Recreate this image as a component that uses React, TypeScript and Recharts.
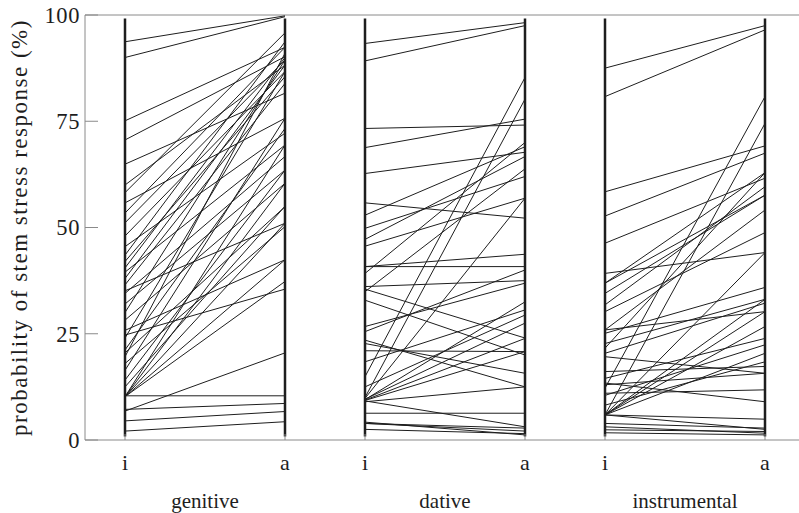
import { Line, LineChart, ReferenceLine, XAxis, YAxis } from "recharts";

const panelNames = ["genitive", "dative", "instrumental"];
const levelLabels = ["i", "a"];
const panelStart = [0, 3, 6];
const panelSpan = 2;
const yTicks = [0, 25, 50, 75, 100];

const genitiveI = [93.7, 90.0, 75.1, 70.6, 64.9, 60.0, 58.2, 55.8, 53.4, 51.1, 48.0, 45.5, 43.5, 42.0, 40.5, 39.5, 38.0, 36.5, 35.1, 34.5, 32.0, 30.0, 28.2, 25.8, 24.7, 24.0, 21.2, 20.5, 19.6, 18.0, 16.4, 14.1, 12.5, 10.2, 10.2, 10.2, 10.2, 10.2, 10.4, 7.2, 6.8, 4.5, 2.1];
const genitiveA = [99.8, 99.6, 92.4, 90.2, 81.6, 88.2, 95.8, 75.7, 92.4, 89.4, 86.7, 72.2, 93.7, 85.5, 90.0, 69.4, 88.2, 83.9, 51.0, 66.7, 63.5, 89.4, 60.4, 42.4, 35.5, 86.7, 73.3, 54.9, 91.0, 50.2, 75.7, 63.5, 55.0, 37.3, 60.4, 69.4, 51.0, 42.4, 10.4, 8.6, 20.5, 6.7, 4.3];

const dativeI = [93.3, 89.2, 73.3, 68.8, 62.7, 55.8, 52.9, 49.8, 47.2, 45.6, 40.8, 40.8, 39.2, 36.1, 34.9, 32.9, 26.7, 25.5, 23.5, 22.7, 21.0, 18.4, 14.9, 12.5, 10.0, 9.8, 9.6, 9.5, 9.4, 9.3, 9.2, 9.0, 6.3, 3.9, 3.9, 2.5, 4.2, 35.5];
const dativeA = [98.2, 97.5, 74.1, 75.5, 67.7, 52.2, 69.0, 62.0, 66.7, 56.9, 43.7, 40.8, 70.0, 37.5, 63.8, 20.0, 36.9, 40.0, 12.5, 15.7, 20.8, 30.6, 85.3, 29.4, 80.2, 56.9, 27.5, 32.5, 23.9, 20.8, 3.1, 12.5, 6.3, 2.1, 2.8, 1.5, 1.2, 24.0];

const instrumentalI = [87.5, 80.8, 58.4, 52.7, 46.3, 39.2, 36.9, 34.5, 31.8, 30.2, 25.9, 25.1, 22.7, 21.6, 20.4, 19.6, 16.1, 14.5, 13.4, 13.0, 12.2, 11.0, 10.5, 8.2, 5.9, 5.9, 5.9, 5.9, 5.9, 5.9, 5.9, 5.9, 3.9, 3.1, 2.4, 1.7, 36.9, 25.9];
const instrumentalA = [97.5, 96.5, 69.2, 67.5, 61.6, 44.1, 62.9, 57.6, 59.6, 48.8, 54.1, 35.9, 33.1, 62.9, 32.2, 15.7, 17.3, 23.9, 9.0, 15.7, 80.8, 11.8, 22.4, 18.4, 74.5, 30.2, 26.7, 20.4, 44.1, 33.1, 4.9, 2.5, 2.8, 1.6, 2.0, 1.2, 57.6, 30.2];

const panels = [
  { start: genitiveI, end: genitiveA },
  { start: dativeI, end: dativeA },
  { start: instrumentalI, end: instrumentalA },
];

const FONT = "Liberation Serif";
const INK = "#1e1e1e";
const AXIS = "#8a8a8a";

const levelTicks = panelStart.flatMap((s) => [s, s + panelSpan]);
const panelCenters = panelStart.map((s) => s + panelSpan / 2);

interface TickProps {
  x?: number;
  y?: number;
  payload?: { value: number };
}

function YTick({ x, y, payload }: TickProps) {
  return (
    <text x={x} y={y} dy="0.35em" textAnchor="end" fill={INK} fontFamily={FONT} fontSize={22.5} letterSpacing={0.6}>
      {payload?.value}
    </text>
  );
}

function LevelTick({ x, y, payload }: TickProps) {
  const label = panelStart.includes(payload?.value ?? -1) ? levelLabels[0] : levelLabels[1];
  return (
    <text x={x} y={y} dy="0.71em" textAnchor="middle" fill={INK} fontFamily={FONT} fontSize={22}>
      {label}
    </text>
  );
}

function PanelTick({ x, y, payload }: TickProps) {
  return (
    <text x={x} y={y} dy="0.71em" textAnchor="middle" fill={INK} fontFamily={FONT} fontSize={21}>
      {panelNames[panelCenters.indexOf(payload?.value ?? -1)]}
    </text>
  );
}

export default function App() {
  return (
    <div style={{ position: "absolute", left: 0, top: 0, background: "#fff", fontFamily: FONT }}>
      <LineChart width={799} height={513} margin={{ top: 15, right: 0, left: 0, bottom: 0 }}>
        <XAxis
          type="number"
          dataKey="x"
          domain={[-0.5, 8.425]}
          allowDataOverflow
          ticks={levelTicks}
          stroke={AXIS}
          tickSize={-6}
          tickMargin={20}
          height={40}
          tick={<LevelTick />}
        />
        <XAxis
          xAxisId="panel"
          type="number"
          dataKey="x"
          domain={[-0.5, 8.425]}
          allowDataOverflow
          ticks={panelCenters}
          axisLine={false}
          tickLine={false}
          tickSize={0}
          tickMargin={13}
          height={33}
          tick={<PanelTick />}
        />
        <YAxis
          type="number"
          domain={[0, 100]}
          ticks={yTicks}
          width={85}
          stroke={AXIS}
          tickSize={-13}
          tickMargin={18}
          tick={<YTick />}
          label={{
            value: "probability of stem stress response (%)",
            angle: -90,
            position: "insideLeft",
            dx: 14,
            style: { fill: INK, fontSize: 23, fontFamily: FONT, textAnchor: "middle", letterSpacing: 1.5 },
          }}
        />
        <ReferenceLine y={100} stroke={AXIS} strokeWidth={1} />
        {levelTicks.map((x) => (
          <ReferenceLine
            key={`axis-${x}`}
            segment={[
              { x, y: 0.8 },
              { x, y: 99.2 },
            ]}
            stroke={INK}
            strokeWidth={2.5}
          />
        ))}
        {panels.flatMap((panel, p) =>
          panel.start.map((v, k) => (
            <Line
              key={`l-${p}-${k}`}
              data={[
                { x: panelStart[p], v },
                { x: panelStart[p] + panelSpan, v: panel.end[k] },
              ]}
              dataKey="v"
              stroke={INK}
              strokeWidth={1}
              dot={false}
              activeDot={false}
              isAnimationActive={false}
            />
          )),
        )}
      </LineChart>
    </div>
  );
}
